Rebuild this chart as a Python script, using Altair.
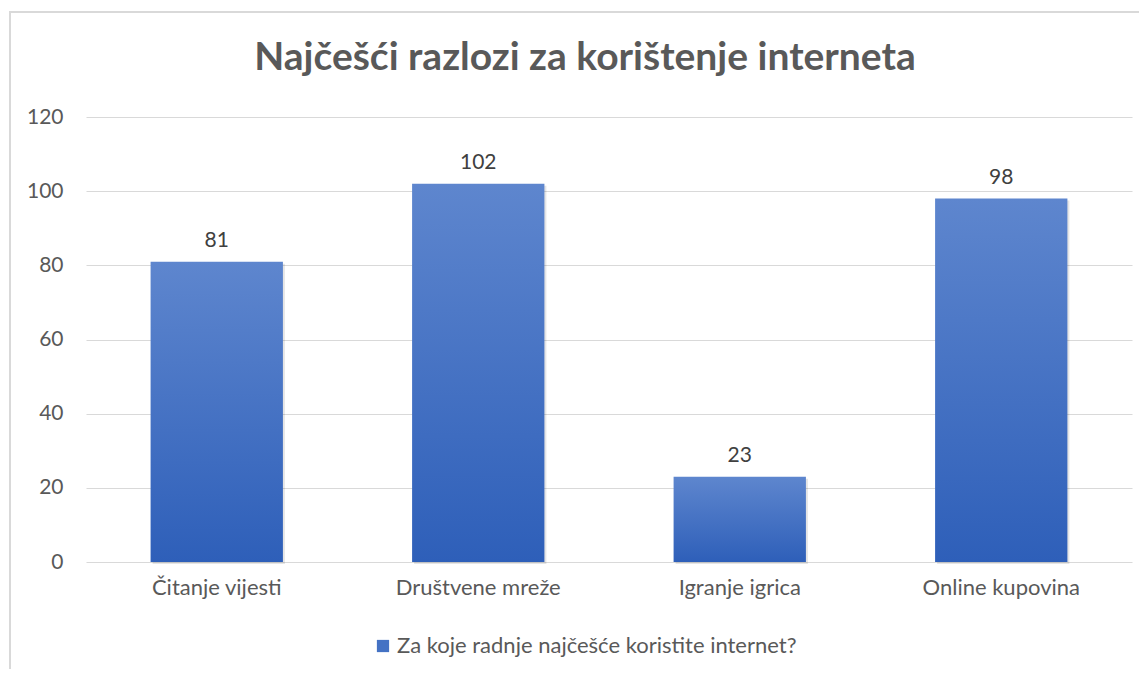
import altair as alt
import pandas as pd

categories = ["Čitanje vijesti", "Društvene mreže", "Igranje igrica", "Online kupovina"]
values = [81, 102, 23, 98]
series_name = "Za koje radnje najčešće koristite internet?"
y_ticks = [0, 20, 40, 60, 80, 100, 120]

df = pd.DataFrame({"cat": categories, "val": values, "series": [series_name] * len(categories)})

FONT = "Lato"
GRAY = "#595959"

x_enc = alt.X("cat:N", sort=categories, title=None,
              scale=alt.Scale(paddingInner=0.494, paddingOuter=0.247),
              axis=alt.Axis(labelAngle=0, ticks=False, domain=False, labelPadding=15,
                            labelFontSize=22, labelColor=GRAY, labelFont=FONT))
y_enc = alt.Y("val:Q", title=None,
              scale=alt.Scale(domain=[0, 120]),
              axis=alt.Axis(values=y_ticks, ticks=False, domain=False, labelPadding=23,
                            labelFontSize=21, labelColor=GRAY, labelFont=FONT,
                            gridColor="#d9d9d9", gridWidth=1))

grad = alt.Gradient(gradient="linear",
                    stops=[alt.GradientStop(color="#5E86CE", offset=0),
                           alt.GradientStop(color="#2E5FB9", offset=1)],
                    x1=0, x2=0, y1=0, y2=1)

frame = alt.Chart(df).mark_rect(fill=None, stroke="#d9d9d9", strokeWidth=1.5).encode(
    x=alt.value(-76), x2=alt.value(1200), y=alt.value(-105), y2=alt.value(700)
)

shadow = alt.Chart(df).mark_bar(color="#000000", opacity=0.10, xOffset=2, yOffset=2).encode(
    x=x_enc, y=y_enc)

bars = alt.Chart(df).mark_bar(color=grad).encode(x=x_enc, y=y_enc)

legend_layer = alt.Chart(df).mark_square(opacity=0, size=10).encode(
    x=x_enc, y=y_enc,
    color=alt.Color("series:N", scale=alt.Scale(range=["#4472C4"]), title=None,
                    legend=alt.Legend(orient="none", legendX=286, legendY=518,
                                      symbolType="square", symbolSize=150, symbolOpacity=1,
                                      symbolStrokeWidth=0,
                                      labelFontSize=22, labelColor=GRAY, labelFont=FONT,
                                      labelLimit=700, labelOffset=3, padding=0))
)

labels = bars.mark_text(baseline="alphabetic", dy=-15, fontSize=21, color="#404040", font=FONT).encode(
    text=alt.Text("val:Q"))

chart = alt.layer(frame, shadow, bars, legend_layer, labels).properties(
    width=1046, height=445,
    title=alt.TitleParams("Najčešći razlozi za korištenje interneta", fontSize=39, font=FONT,
                          fontWeight="bold", color=GRAY, anchor="middle", dx=-24,
                          baseline="alphabetic", offset=-98),
    autosize=alt.AutoSizeParams(type="none"),
    padding={"left": 78, "top": 109, "right": 7, "bottom": 107},
).configure_view(stroke=None)

chart.save("out.html", embed_options={"renderer": "svg", "actions": False})
